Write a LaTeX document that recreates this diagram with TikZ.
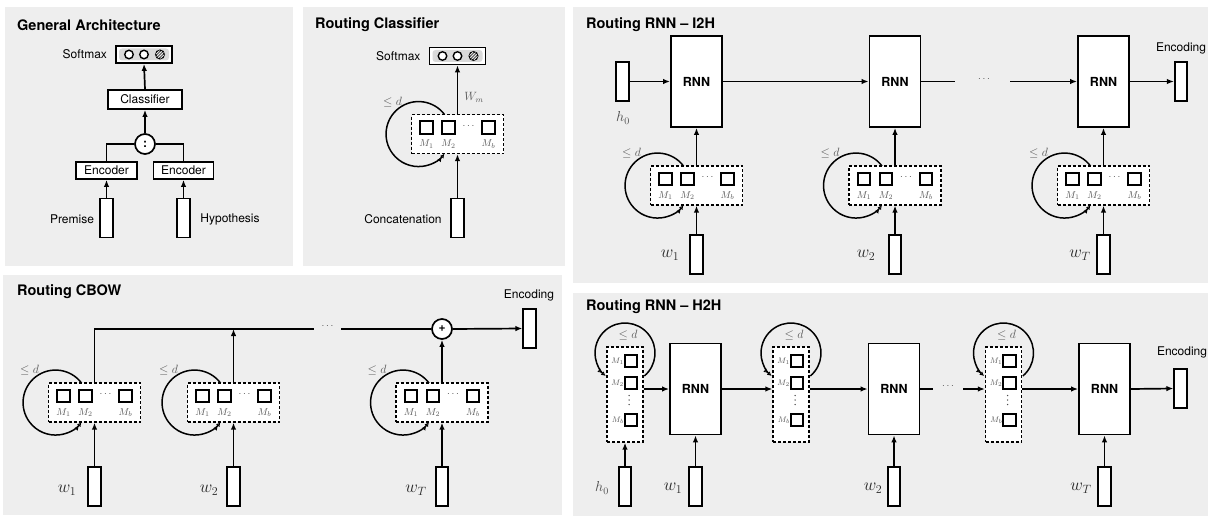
\documentclass[tikz,border=0pt]{standalone}
\usepackage{fontspec}
\setmainfont{TeX Gyre Heros}
\usetikzlibrary{arrows.meta,calc,patterns}
\definecolor{panelgray}{HTML}{EEEEEE}
\definecolor{innergray}{HTML}{DADADA}
% horizontal routing unit: name, cx, cy
\newcommand\HUnit[3]{%
 \node[dbox, minimum width=92pt, minimum height=39pt] (#1) at (#2,#3) {};
 \node[msq] (#1a) at (#2-31,#3-6.5) {};
 \node[msq] (#1b) at (#2-9,#3-6.5) {};
 \node[msq] (#1c) at (#2+31,#3-6.5) {};
 \node[dotsty] (#1d) at (#2+11,#3-8) {$\cdots$};
 \node[ml] (#1la) at (#2-31,#3+10) {$M_1$};
 \node[ml] (#1lb) at (#2-9,#3+10) {$M_2$};
 \node[ml] (#1lc) at (#2+31,#3+10) {$M_b$};
 \draw[lp] (#2-13,#3-19.5) arc[start angle=-37,end angle=-323,radius=32.5];
 \node[ld] (#1le) at (#2-65,#3-32) {$\leq d$};
}
% vertical routing unit: name, cx, cy
\newcommand\VUnit[3]{%
 \node[dbox, minimum width=36pt, minimum height=95pt] (#1) at (#2,#3) {};
 \node[msq] (#1a) at (#2+6,#3-33.5) {};
 \node[msq] (#1b) at (#2+6,#3-11.5) {};
 \node[msq] (#1c) at (#2+6,#3+25.5) {};
 \fill[black!70] (#2+4,#3+1) circle[radius=0.75] (#2+4,#3+5.5) circle[radius=0.75] (#2+4,#3+10) circle[radius=0.75];
 \node[mlv] (#1la) at (#2-1,#3-33.5) {$M_1$};
 \node[mlv] (#1lb) at (#2-1,#3-11.5) {$M_2$};
 \node[mlv] (#1lc) at (#2-1,#3+25.5) {$M_b$};
 \draw[lp] (#2+19.3,#3-18.5) arc[start angle=50,end angle=-230,radius=30];
 \node[ld] (#1le) at (#2+3,#3-59.5) {$\leq d$};
}
% softmax box: name, cx, cy
\newcommand\SoftBox[3]{%
 \node[sbox, minimum width=56pt, minimum height=17pt] (#1) at (#2,#3) {};
 \node[fill=innergray, rounded corners=3pt, minimum width=50pt, minimum height=12pt, inner sep=0pt] (#1g) at (#2,#3) {};
 \node[smc] (#1a) at (#2-15,#3) {};
 \node[smc] (#1b) at (#2,#3) {};
 \node[smc, fill=black!55, postaction={pattern=north east lines, pattern color=white}] (#1c) at (#2+16,#3) {};
}
\begin{document}
\begin{tikzpicture}[x=1pt,y=-1pt,
  ttl/.style={font=\fontsize{14.5}{17}\selectfont\bfseries, anchor=west, inner sep=0pt},
  lbl/.style={font=\fontsize{12}{14}\selectfont, inner sep=0pt},
  sbox/.style={draw, line width=1.7pt, fill=white, inner sep=0pt, font=\fontsize{12}{14}\selectfont},
  inbar/.style={draw, line width=1.7pt, fill=white, minimum width=12.5pt, minimum height=39pt, inner sep=0pt},
  rnn/.style={draw, line width=1.8pt, fill=white, minimum width=51pt, minimum height=91pt, inner sep=0pt, font=\fontsize{12.5}{15}\selectfont\bfseries},
  dbox/.style={draw, line width=1.3pt, dash pattern=on 3pt off 2pt, fill=white, inner sep=0pt},
  msq/.style={draw, line width=1.8pt, fill=white, minimum size=12.5pt, inner sep=0pt},
  ml/.style={font=\fontsize{10}{12}\selectfont, text=black!65, inner sep=0pt},
  mlv/.style={font=\fontsize{8.5}{10}\selectfont, text=black!65, inner sep=0pt, anchor=east},
  ld/.style={font=\fontsize{11.5}{13}\selectfont, text=black!65, inner sep=0pt},
  wl/.style={font=\fontsize{17}{20}\selectfont, text=black!85, inner sep=0pt},
  hl/.style={font=\fontsize{14}{16}\selectfont, text=black!70, inner sep=0pt},
  dotsty/.style={font=\fontsize{10}{12}\selectfont, text=black!70, inner sep=0pt},
  op/.style={draw, circle, line width=1.7pt, fill=white, minimum size=20pt, inner sep=0pt, font=\fontsize{12}{14}\selectfont\bfseries},
  arr/.style={line width=1.7pt, -{Latex[length=7pt,width=5.5pt]}},
  ln/.style={line width=1.7pt},
  lp/.style={line width=1.5pt, -{Latex[open,length=4.5pt,width=4.5pt]Latex[open,length=4.5pt,width=4.5pt]}},
  smc/.style={draw, circle, line width=1.4pt, fill=white, minimum size=8.5pt, inner sep=0pt},
]
\useasboundingbox (0,0) rectangle (1210,519);
\fill[white] (0,0) rectangle (1210,519);
% panels
\fill[panelgray] (5,7) rectangle (293,266);
\fill[panelgray] (303,7) rectangle (565,266);
\fill[panelgray] (573,7) rectangle (1208,283);
\fill[panelgray] (3,275) rectangle (562,515);
\fill[panelgray] (573,293) rectangle (1208,516);

%% ---------- General Architecture ----------
\node[ttl] (t1) at (17,25) {General Architecture};
\SoftBox{smA}{144}{54.5}
\node[lbl, anchor=east] (smAl) at ($(smA.west)+(-8,0)$) {Softmax};
\node[sbox, minimum width=74pt, minimum height=19pt] (cls) at (145,99.5) {Classifier};
\node[op] (col) at (145,144) {:};
\node[sbox, minimum width=61pt, minimum height=17pt] (encp) at (106.5,170.5) {Encoder};
\node[sbox, minimum width=60pt, minimum height=17pt] (ench) at (183.5,170.5) {Encoder};
\node[inbar] (bp) at (106.5,218) {};
\node[inbar] (bh) at (183.5,218) {};
\node[lbl] (prem) at (72,219) {Premise};
\node[lbl] (hyp) at (230,219) {Hypothesis};
\draw[arr] (bp.north) -- (encp.south);
\draw[arr] (bh.north) -- (ench.south);
\draw[ln] (encp.north) |- (col.west);
\draw[ln] (ench.north) |- (col.east);
\draw[arr] (col.north) -- (cls.south);
\draw[arr] (cls.north) -- (smA.south);

%% ---------- Routing Classifier ----------
\node[ttl] (t2) at (315,25) {Routing Classifier};
\SoftBox{smB}{457.5}{56}
\node[lbl, anchor=east] (smBl) at ($(smB.west)+(-8,0)$) {Softmax};
\HUnit{rc}{457.5}{134}
\draw[arr] (rc.north) -- (smB.south);
\node[ld] (wm) at (474,97) {$W_m$};
\node[inbar] (bc) at (457.5,218) {};
\node[lbl] (conc) at (403,219) {Concatenation};
\draw[arr] (bc.north) -- (rc.south);

%% ---------- Routing RNN - I2H ----------
\node[ttl] (t3) at (586,25) {Routing RNN – I2H};
\node[inbar] (ih0) at (622.5,81.5) {};
\node[hl] (ih0l) at (623,118) {$h_0$};
\node[rnn] (ir1) at (696.5,81.5) {RNN};
\node[rnn] (ir2) at (895,81.5) {RNN};
\node[rnn] (ir3) at (1103.5,81.5) {RNN};
\node[inbar] (ienc) at (1181,81.5) {};
\node[lbl] (iencl) at (1181,48) {Encoding};
\HUnit{iu1}{696.5}{185.5}
\HUnit{iu2}{895}{185.5}
\HUnit{iu3}{1103.5}{185.5}
\node[inbar] (iw1) at (696.5,254.5) {};
\node[inbar] (iw2) at (895,254.5) {};
\node[inbar] (iw3) at (1103.5,254.5) {};
\node[wl] (iw1l) at (670,255) {$w_1$};
\node[wl] (iw2l) at (866,255) {$w_2$};
\node[wl] (iw3l) at (1080,255) {$w_T$};
\coordinate (idl) at (955,81.5);
\coordinate (idr) at (1010,81.5);
\node[dotsty] (idots) at (984,79) {$\cdots$};
\draw[arr] (ih0.east) -- (ir1.west);
\draw[arr] (ir1.east) -- (ir2.west);
\draw[ln] (ir2.east) -- (idl);
\draw[arr] (idr) -- (ir3.west);
\draw[arr] (ir3.east) -- (ienc.west);
\draw[arr] (iu1.north) -- (ir1.south);
\draw[arr] (iu2.north) -- (ir2.south);
\draw[arr] (iu3.north) -- (ir3.south);
\draw[arr] (iw1.north) -- (iu1.south);
\draw[arr] (iw2.north) -- (iu2.south);
\draw[arr] (iw3.north) -- (iu3.south);

%% ---------- Routing CBOW ----------
\node[ttl] (t4) at (17,292) {Routing CBOW};
\HUnit{cu1}{94.5}{402.5}
\HUnit{cu2}{233.5}{402.5}
\HUnit{cu3}{442}{402.5}
\node[op] (plus) at (442,329) {+};
\node[inbar] (cenc) at (529.5,328.5) {};
\node[lbl] (cencl) at (529,295) {Encoding};
\node[inbar] (cw1) at (94.5,486.5) {};
\node[inbar] (cw2) at (233.5,486.5) {};
\node[inbar] (cw3) at (442,486.5) {};
\node[wl] (cw1l) at (67,490) {$w_1$};
\node[wl] (cw2l) at (209,490) {$w_2$};
\node[wl] (cw3l) at (416,490) {$w_T$};
\coordinate (cdl) at (314,329);
\coordinate (cdr) at (341,329);
\node[dotsty] (cdots) at (327.5,326.5) {$\cdots$};
\draw[ln] (cu1.north) |- (cdl);
\draw[arr] (cu2.north) -- (cu2.north |- cdl);
\draw[ln] (cdr) -- (plus.west);
\draw[arr] (cu3.north) -- (plus.south);
\draw[arr] (plus.east) -- (cenc.west);
\draw[arr] (cw1.north) -- (cu1.south);
\draw[arr] (cw2.north) -- (cu2.south);
\draw[arr] (cw3.north) -- (cu3.south);

%% ---------- Routing RNN - H2H ----------
\node[ttl] (t5) at (586,307) {Routing RNN – H2H};
\VUnit{hv1}{625}{394.5}
\VUnit{hv2}{791}{394.5}
\VUnit{hv3}{1003.5}{394.5}
\node[rnn] (hr1) at (695.5,389) {RNN};
\node[rnn] (hr2) at (894,389) {RNN};
\node[rnn] (hr3) at (1104.5,389) {RNN};
\node[inbar] (henc) at (1180.5,388.5) {};
\node[lbl] (hencl) at (1182,352) {Encoding};
\node[inbar] (hh0) at (625,486.5) {};
\node[inbar] (hw1) at (695.5,486.5) {};
\node[inbar] (hw2) at (894,486.5) {};
\node[inbar] (hw3) at (1104.5,486.5) {};
\node[hl] (hh0l) at (602,488) {$h_0$};
\node[wl] (hw1l) at (673,488) {$w_1$};
\node[wl] (hw2l) at (873,488) {$w_2$};
\node[wl] (hw3l) at (1081,488) {$w_T$};
\coordinate (hdl) at (933,389);
\coordinate (hdr) at (963,389);
\node[dotsty] (hdots) at (948,386.5) {$\cdots$};
\draw[arr] (hv1.east |- hr1.west) -- (hr1.west);
\draw[arr] (hr1.east) -- (hv2.west |- hr1.east);
\draw[arr] (hv2.east |- hr2.west) -- (hr2.west);
\draw[ln] (hr2.east) -- (hdl);
\draw[arr] (hdr) -- (hv3.west |- hdr);
\draw[arr] (hv3.east |- hr3.west) -- (hr3.west);
\draw[arr] (hr3.east) -- (henc.west);
\draw[arr] (hh0.north) -- (hv1.south);
\draw[arr] (hw1.north) -- (hr1.south);
\draw[arr] (hw2.north) -- (hr2.south);
\draw[arr] (hw3.north) -- (hr3.south);
\end{tikzpicture}
\end{document}
